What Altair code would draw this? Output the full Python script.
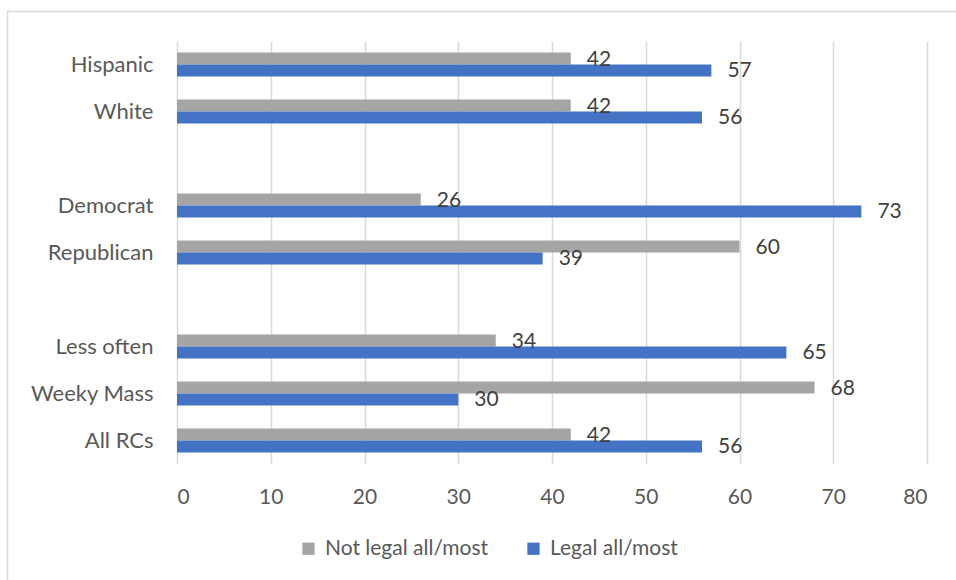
import altair as alt
import pandas as pd

categories = ["Hispanic", "White", "", "Democrat", "Republican", " ", "Less often", "Weeky Mass", "All RCs"]
groups = ["Hispanic", "White", "Democrat", "Republican", "Less often", "Weeky Mass", "All RCs"]
not_legal = [42, 42, 26, 60, 34, 68, 42]
legal = [57, 56, 73, 39, 65, 30, 56]
series = ["Not legal all/most", "Legal all/most"]
colors = ["#A5A5A5", "#4472C4"]
ticks = [0, 10, 20, 30, 40, 50, 60, 70, 80]

rows = []
for g, a, b in zip(groups, not_legal, legal):
    rows.append({"cat": g, "series": series[0], "value": a})
    rows.append({"cat": g, "series": series[1], "value": b})
df = pd.DataFrame(rows)

FONT = "Lato"

y_enc = alt.Y("cat:N", scale=alt.Scale(domain=categories, paddingInner=0.49, paddingOuter=0.245),
              axis=alt.Axis(title=None, labelFontSize=22, labelFont=FONT, labelColor="#595959",
                            labelPadding=24, ticks=False, domain=False, grid=False,
                            labelExpr="(datum.label == 'White' || datum.label == 'Weeky Mass') ? datum.label + '\u00a0' : datum.label"))
yoff = alt.YOffset("series:N", scale=alt.Scale(domain=series, paddingInner=0, paddingOuter=0))
x_enc = alt.X("value:Q", scale=alt.Scale(domain=[0, 80], nice=False),
              axis=alt.Axis(title=None, values=ticks, labelFontSize=21, labelFont=FONT, labelColor="#595959",
                            labelPadding=22, ticks=False, domain=False, grid=True, gridColor="#D9D9D9",
                            gridWidth=1.5))

bars = alt.Chart(df).mark_bar().encode(
    y=y_enc, yOffset=yoff, x=x_enc,
    color=alt.Color("series:N", scale=alt.Scale(domain=series, range=colors),
                    legend=alt.Legend(title=None, orient="none", direction="horizontal",
                                      legendX=121, legendY=497, symbolType="square", symbolSize=150,
                                      symbolStrokeWidth=0, labelFontSize=21, labelFont=FONT,
                                      labelColor="#595959", labelOffset=6, columnPadding=34,
                                      labelLimit=0, symbolOpacity=1)),
)

labels = alt.Chart(df).mark_text(align="left", baseline="middle", dx=16, dy=1, fontSize=21, font=FONT,
                                 color="#404040").encode(
    y=alt.Y("cat:N", scale=alt.Scale(domain=categories)), yOffset=yoff, x=alt.X("value:Q"), text="value:Q"
)

frame = alt.Chart(alt.Data(values=[{}])).mark_rect(fill=None, stroke="#D9D9D9", strokeWidth=1.5, clip=False).encode(
    x=alt.value(-169.5), x2=alt.value(800), y=alt.value(-29.5), y2=alt.value(560)
)

chart = alt.layer(frame, bars, labels).properties(
    width=750, height=423,
    autosize=alt.AutoSizeParams(type="none"),
    padding={"left": 177, "top": 41, "right": 29, "bottom": 116},
    background="white",
).configure_view(stroke=None)

chart.save("out.html", embed_options={"renderer": "svg", "actions": False})
